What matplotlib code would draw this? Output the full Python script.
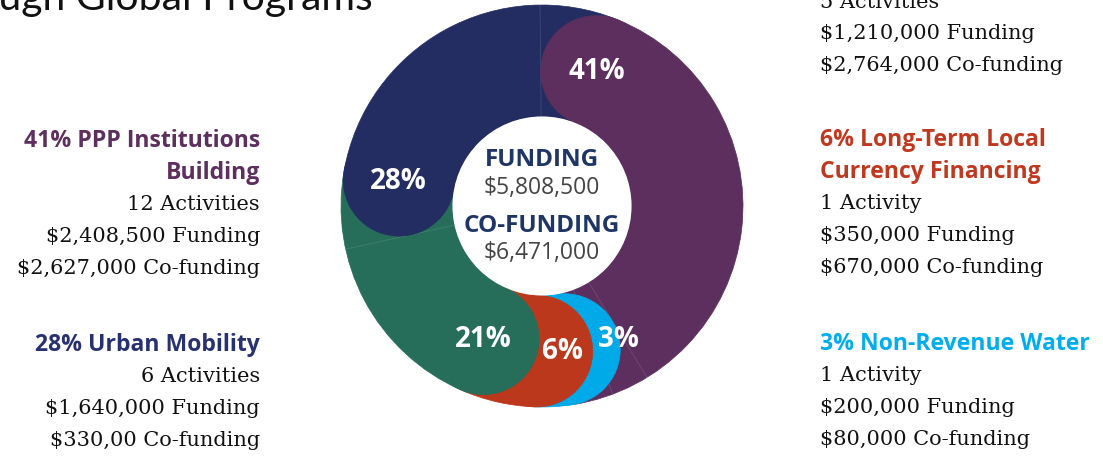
import matplotlib.pyplot as plt
from matplotlib.patches import Wedge, Circle
import numpy as np

# programme shares, clockwise from the top-right
names = ["PPP Institutions Building", "Non-Revenue Water",
         "Long-Term Local Currency Financing", "Municipal Finance", "Urban Mobility"]
percents = [41, 3, 6, 21, 28]
colors = ["#5D2F5E", "#00AAE9", "#BC381D", "#266E59", "#232D62"]

total_funding = "$5,808,500"
total_cofunding = "$6,471,000"

left_blocks = [
    (["41% PPP Institutions", "Building"], "#5D2F5E",
     ["12 Activities", "$2,408,500 Funding", "$2,627,000 Co-funding"]),
    (["28% Urban Mobility"], "#283170",
     ["6 Activities", "$1,640,000 Funding", "$330,00 Co-funding"]),
]
right_blocks = [
    ([], None, ["5 Activities", "$1,210,000 Funding", "$2,764,000 Co-funding"]),
    (["6% Long-Term Local", "Currency Financing"], "#C0391F",
     ["1 Activity", "$350,000 Funding", "$670,000 Co-funding"]),
    (["3% Non-Revenue Water"], "#00AEEF",
     ["1 Activity", "$200,000 Funding", "$80,000 Co-funding"]),
]

W, H = 1103, 458
fig = plt.figure(figsize=(W / 100, H / 100), dpi=100)
ax = fig.add_axes([0, 0, 1, 1])
ax.set_xlim(0, W)
ax.set_ylim(H, 0)
ax.set_aspect("equal")
ax.axis("off")

cx, cy = 542, 206
R_out, R_in = 201, 89.5
width = R_out - R_in
r_mid = (R_out + R_in) / 2
r_cap = width / 2
cap_half = np.degrees(np.arcsin(r_cap / r_mid))

SANS = "Open Sans"


def pos(phi, r):
    # phi: degrees clockwise from 12 o'clock
    a = np.radians(phi)
    return cx + r * np.sin(a), cy - r * np.cos(a)


start = 22.0
spans = [p / sum(percents) * 360 for p in percents]
starts = []
s = start
for sp in spans:
    starts.append(s)
    s += sp

# ring pieces
for st, sp, c in zip(starts, spans, colors):
    ax.add_patch(Wedge((cx, cy), R_out, st - 90, st + sp - 90, width=width,
                       facecolor=c, edgecolor=c, linewidth=0.5, zorder=1))

# faint seams where each rounded head begins
for st in starts:
    phi = st - cap_half
    x0, y0 = pos(phi, R_in)
    x1, y1 = pos(phi, R_out)
    ax.plot([x0, x1], [y0, y1], color="white", lw=0.5, alpha=0.15, zorder=2)

# rounded heads, each laid over the piece before it
for i in [1, 2, 3, 4, 0]:
    x, y = pos(starts[i], r_mid)
    ax.add_patch(Circle((x, y), r_cap, facecolor=colors[i], edgecolor=colors[i],
                        linewidth=0.5, zorder=3 + i * 0.01 if i else 4))

ax.add_patch(Circle((cx, cy), R_in, facecolor="white", edgecolor="none", zorder=5))

# percent labels inside the ring
label_pos = [(22.3, 145), (150.4, 154), (172, 147), (203.8, 146), (279.5, 146)]
for p, (phi, r) in zip(percents, label_pos):
    x, y = pos(phi, r)
    ax.text(x, y, f"{p}%", color="white", fontsize=20, fontweight="bold",
            family=SANS, ha="center", va="center", zorder=6)

ax.text(cx, 160, "FUNDING", color="#1F3566", fontsize=17.5, fontweight="bold",
        family=SANS, ha="center", va="center", zorder=6)
ax.text(cx, 188, total_funding, color="#444444", fontsize=16.5,
        family=SANS, ha="center", va="center", zorder=6)
ax.text(cx, 226, "CO-FUNDING", color="#1F3566", fontsize=17.5, fontweight="bold",
        family=SANS, ha="center", va="center", zorder=6)
ax.text(cx, 253, total_cofunding, color="#444444", fontsize=16.5,
        family=SANS, ha="center", va="center", zorder=6)

# title, running off the top-left corner
ax.text(373, 10, "through Global Programs", fontsize=29.5,
        family="Lato", color="#111111", ha="right", va="baseline")

line_h = 31.8


def draw_block(x, y, heads, hcolor, body, ha):
    for h in heads:
        ax.text(x, y, h, color=hcolor, fontsize=16.6, fontweight="bold",
                family=SANS, ha=ha, va="center")
        y += line_h
    for b in body:
        ax.text(x, y, b, color="#111111", fontsize=15, family="DejaVu Serif",
                ha=ha, va="center")
        y += line_h


draw_block(260, 141, *left_blocks[0], "right")
draw_block(260, 345, *left_blocks[1], "right")
draw_block(820, 2, *right_blocks[0], "left")
draw_block(820, 140, *right_blocks[1], "left")
draw_block(820, 344, *right_blocks[2], "left")

fig.savefig("out.png", dpi=100)
